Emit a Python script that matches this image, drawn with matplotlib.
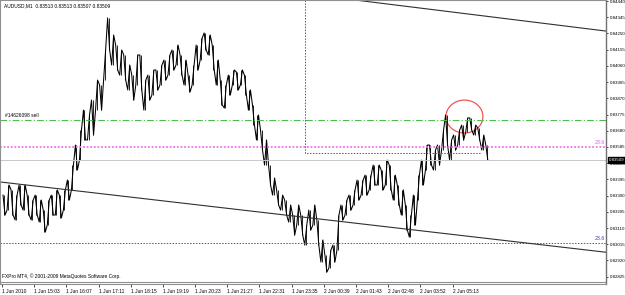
import matplotlib.pyplot as plt
from matplotlib.patches import Ellipse
import numpy as np

plt.rcParams['font.family'] = ['Liberation Sans', 'DejaVu Sans']

symbol_info = "AUDUSD,M1  0.83513 0.83513 0.83507 0.83509"
copyright_txt = "FXPro MT4, \u00a9 2001-2009 MetaQuotes Software Corp."

# M1 bars, sampled every 8 bars (high / low of each chunk)
bar_idx = np.arange(4, 968, 8)
highs = [0.83303, 0.83362, 0.83333, 0.83303, 0.83362, 0.83362, 0.83303, 0.83274, 0.83303, 0.83274,
         0.83215, 0.83274, 0.83303, 0.83333, 0.83303, 0.83333, 0.83391, 0.83479, 0.83596, 0.83684,
         0.83801, 0.83772, 0.83860, 0.83977, 0.83948, 0.84153, 0.84341, 0.84241, 0.84182, 0.84153,
         0.84124, 0.84065, 0.84006, 0.84124, 0.84124, 0.83977, 0.84006, 0.84036, 0.84036, 0.84065,
         0.84094, 0.84124, 0.84153, 0.84182, 0.84124, 0.84094, 0.84006, 0.84065, 0.84182, 0.84223,
         0.84253, 0.84241, 0.84182, 0.84094, 0.83977, 0.83948, 0.84006, 0.84036, 0.84024, 0.84036,
         0.84006, 0.83919, 0.83831, 0.83772, 0.83684, 0.83626, 0.83479, 0.83403, 0.83333, 0.83303,
         0.83274, 0.83245, 0.83186, 0.83245, 0.83186, 0.83127, 0.83215, 0.83245, 0.83157, 0.83040,
         0.82952, 0.82981, 0.83010, 0.83186, 0.83245, 0.83274, 0.83303, 0.83333, 0.83391, 0.83391,
         0.83420, 0.83420, 0.83479, 0.83479, 0.83450, 0.83508, 0.83479, 0.83420, 0.83362, 0.83333,
         0.83245, 0.83186, 0.83303, 0.83420, 0.83508, 0.83596, 0.83596, 0.83567, 0.83596, 0.83684,
         0.83772, 0.83626, 0.83655, 0.83684, 0.83713, 0.83755, 0.83755, 0.83713, 0.83696, 0.83655,
         0.83596]
lows = [0.83186, 0.83215, 0.83186, 0.83157, 0.83245, 0.83215, 0.83186, 0.83157, 0.83186, 0.83145,
        0.83086, 0.83127, 0.83186, 0.83186, 0.83169, 0.83215, 0.83274, 0.83333, 0.83450, 0.83508,
        0.83626, 0.83626, 0.83655, 0.83801, 0.83801, 0.83977, 0.84153, 0.84065, 0.84036, 0.84006,
        0.83977, 0.83919, 0.83860, 0.83948, 0.83919, 0.83801, 0.83860, 0.83889, 0.83919, 0.83948,
        0.83977, 0.84006, 0.84036, 0.84065, 0.84006, 0.83948, 0.83907, 0.83948, 0.84036, 0.84094,
        0.84153, 0.84124, 0.84036, 0.83948, 0.83831, 0.83813, 0.83889, 0.83948, 0.83919, 0.83948,
        0.83889, 0.83801, 0.83713, 0.83626, 0.83567, 0.83479, 0.83362, 0.83303, 0.83245, 0.83215,
        0.83186, 0.83145, 0.83069, 0.83127, 0.83069, 0.83010, 0.83098, 0.83127, 0.83010, 0.82911,
        0.82852, 0.82876, 0.82911, 0.82981, 0.83157, 0.83186, 0.83215, 0.83245, 0.83274, 0.83303,
        0.83303, 0.83333, 0.83362, 0.83362, 0.83333, 0.83362, 0.83333, 0.83274, 0.83245, 0.83186,
        0.83098, 0.83057, 0.83127, 0.83274, 0.83362, 0.83450, 0.83479, 0.83450, 0.83479, 0.83567,
        0.83596, 0.83508, 0.83567, 0.83596, 0.83626, 0.83672, 0.83684, 0.83655, 0.83626, 0.83567,
        0.83508]

price_ticks = [0.84440, 0.84345, 0.84250, 0.84155, 0.84060, 0.83965, 0.83870, 0.83775, 0.83680,
               0.83585, 0.83490, 0.83395, 0.83300, 0.83205, 0.83110, 0.83015, 0.82920, 0.82825]
time_ticks = [0, 64, 128, 192, 256, 320, 384, 448, 512, 576, 640, 704, 768, 832, 896]
time_labels = ["1 Jun 2010", "1 Jun 15:03", "1 Jun 16:07", "1 Jun 17:11", "1 Jun 18:15",
               "1 Jun 19:19", "1 Jun 20:23", "1 Jun 21:27", "1 Jun 22:31", "1 Jun 23:35",
               "2 Jun 00:39", "2 Jun 01:43", "2 Jun 02:48", "2 Jun 03:52", "2 Jun 05:13"]

bid = 0.83509
sell_level = 0.83743
fibo_hi = 0.83585
fibo_lo = 0.83022
trend_upper = ([702, 1201], [0.84446, 0.84264])
trend_lower = ([-4, 1201], [0.83380, 0.82968])
trade_x = [602, 602, 950]
trade_y = [0.84446, 0.83549, 0.83549]
circle_center = (919.5, 0.83763)

fig = plt.figure(figsize=(6.25, 2.95), dpi=100)
ax = fig.add_axes([0, 11 / 295, 606 / 625, 284 / 295])
ax.set_xlim(-4, 1201)
ax.set_ylim(0.82782, 0.84446)

# snake through high/low of every chunk -> dense bar look
xs, ys = [], []
for k, b in enumerate(bar_idx):
    if k % 2 == 0:
        xs += [b - 2, b + 2]
        ys += [highs[k], lows[k]]
    else:
        xs += [b - 2, b + 2]
        ys += [lows[k], highs[k]]
ax.plot(xs, ys, color='black', lw=0.75)
ax.vlines(bar_idx, lows, highs, color='black', lw=0.6)

ax.axhline(sell_level, color='#4DBD4D', lw=0.8, ls=(0, (6, 2, 1, 2)))
ax.axhline(fibo_hi, color='#F070F0', lw=1.3, ls=(0, (1, 1)))
ax.axhline(bid, color='#C8C8C8', lw=0.7)
ax.axhline(fibo_lo, color='#5050B0', lw=0.7, ls=(0, (1.5, 1.5)))
ax.plot(*trend_upper, color='#303030', lw=0.8)
ax.plot(*trend_lower, color='#303030', lw=0.8)
ax.plot(trade_x, trade_y, color='#9A4040', lw=0.7, ls=(0, (1.5, 1.5)))
ax.add_patch(Ellipse(circle_center, 73.6, 0.00193, fill=False, ec='#F05555', lw=0.9))

fs = 3.5
ax.text(6, sell_level + 0.00012, "#14626098 sell", fontsize=fs, va='bottom', ha='left')
ax.text(1198, fibo_hi + 0.00010, "23.6", fontsize=fs + 0.3, color='#F050F0', va='bottom', ha='right')
ax.text(1198, fibo_lo + 0.00010, "23.6", fontsize=fs + 0.3, color='#4040B0', va='bottom', ha='right')
ax.text(0.004, 0.018, copyright_txt, fontsize=fs, transform=ax.transAxes, va='bottom', ha='left')
ax.plot([0, 1], [0.007, 0.007], transform=ax.transAxes, color='#909090', lw=0.8)
fig.text(4 / 625, 1 - 6 / 295, symbol_info, fontsize=fs, va='center', ha='left')

ax.text(1.004, bid, "%.5f" % bid, transform=ax.get_yaxis_transform(), fontsize=3.2,
        color='white', va='center', ha='left',
        bbox=dict(facecolor='black', edgecolor='black', pad=0.5))

ax.yaxis.tick_right()
ax.set_yticks(price_ticks)
ax.set_yticklabels(["%.5f" % p for p in price_ticks])
ax.tick_params(axis='y', direction='out', length=1.5, width=0.5, pad=1, labelsize=3.2)
ax.set_xticks(time_ticks)
ax.set_xticklabels(time_labels)
ax.tick_params(axis='x', direction='out', length=2.5, width=0.5, pad=1, labelsize=fs)
for lab in ax.get_xticklabels():
    lab.set_ha('left')

for side in ['top', 'left', 'bottom']:
    ax.spines[side].set_color('#909090')
    ax.spines[side].set_linewidth(0.8)
ax.spines['right'].set_color('#707070')
ax.spines['right'].set_linewidth(1.0)

fig.savefig("out.png", dpi=100)
